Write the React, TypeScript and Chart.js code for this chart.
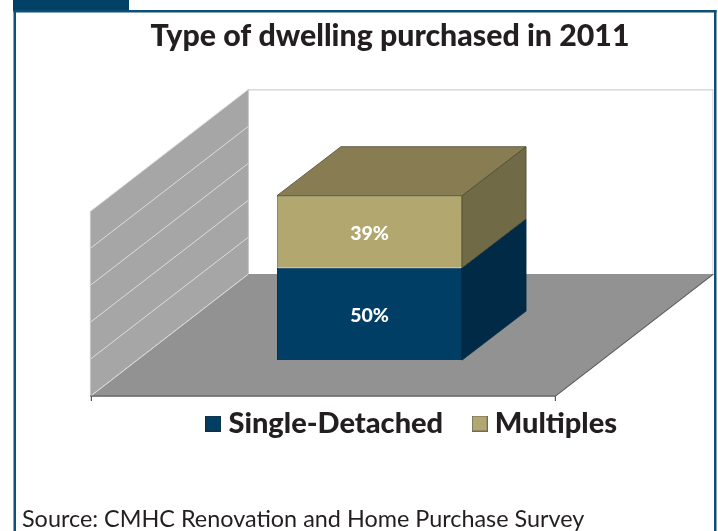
import React, { useEffect, useRef } from "react";
import { Chart, registerables } from "chart.js";

Chart.register(...registerables);

const categories = ["2011"];
const seriesNames = ["Single-Detached", "Multiples"];
const singleDetached = [50];
const multiples = [39];
const axisMax = 100;
const axisStep = 20;

const titleText = "Type of dwelling purchased in 2011";
const sourceText = "Source: CMHC Renovation and Home Purchase Survey";

const ink = "#231f20";
const frameBlue = "#0d4f78";
const tabBlue = "#004165";
const navy = "#003e66";
const navySide = "#002a45";
const khaki = "#b2a76e";
const khakiSide = "#706a47";
const khakiTop = "#877c52";
const khakiEdge = "#4d4833";
const wallGrey = "#a6a6a6";
const floorGrey = "#929292";
const gridGrey = "#dcdcdc";

// Oblique projection of the plot: the bars stand in a plane between the
// front edge of the floor and the back wall.
const floorDepth = { dx: 158, dy: -122 };
const barPlane = { dx: 46.6, dy: -36 };
const barDepth = { dx: 64, dy: -49 };

const poly = (ctx: CanvasRenderingContext2D, pts: number[][], fill: string | null, stroke?: string, lw = 1) => {
  ctx.beginPath();
  pts.forEach(([x, y], i) => (i ? ctx.lineTo(x, y) : ctx.moveTo(x, y)));
  ctx.closePath();
  if (fill) {
    ctx.fillStyle = fill;
    ctx.fill();
  }
  if (stroke) {
    ctx.strokeStyle = stroke;
    ctx.lineWidth = lw;
    ctx.stroke();
  }
};

const line = (ctx: CanvasRenderingContext2D, x0: number, y0: number, x1: number, y1: number, color: string, lw = 1) => {
  ctx.beginPath();
  ctx.moveTo(x0, y0);
  ctx.lineTo(x1, y1);
  ctx.strokeStyle = color;
  ctx.lineWidth = lw;
  ctx.stroke();
};

const swatch = (fill: string, edge: string) => {
  const c = document.createElement("canvas");
  c.width = 16;
  c.height = 16;
  const g = c.getContext("2d")!;
  g.fillStyle = edge;
  g.fillRect(0, 0, 16, 16);
  g.fillStyle = fill;
  g.fillRect(1, 1, 14, 14);
  return c;
};

const placeBoxes = {
  id: "placeBoxes",
  afterLayout(chart: any) {
    chart.boxes.forEach((box: any) => {
      if (box === chart.titleBlock) {
        box.left = 62;
        box.right = 718;
      } else if (box === chart.legend) {
        box.left = 112;
        box.right = 718;
        box.top = 373;
        box.bottom = 470;
      } else if (box.options && box.options.text === sourceText) {
        box.left = 22;
        box.right = 718;
      }
    });
  },
};

const frame = {
  id: "frame",
  beforeDraw(chart: any) {
    const { ctx, width, height } = chart;
    ctx.save();
    ctx.fillStyle = "#ffffff";
    ctx.fillRect(0, 0, width, height);
    ctx.fillStyle = tabBlue;
    ctx.fillRect(13, 0, 116, 11);
    ctx.fillStyle = frameBlue;
    ctx.fillRect(13.5, 10, 2.5, height - 10);
    ctx.fillRect(714, 10, 2.5, height - 10);
    ctx.fillRect(13.5, 10, 703, 2.5);
    ctx.restore();
  },
};

const room = {
  id: "room",
  beforeDatasetsDraw(chart: any) {
    const { ctx, chartArea, scales } = chart;
    const y = scales.y;
    const fl = chartArea.left - barPlane.dx;
    const fr = chartArea.right - barPlane.dx;
    const fb = y.getPixelForValue(0) - barPlane.dy;
    const ft = y.getPixelForValue(axisMax) - barPlane.dy;
    const { dx, dy } = floorDepth;
    ctx.save();

    // back wall outline
    line(ctx, fl + dx, ft + dy + 0.5, fr + dx, ft + dy + 0.5, "#c4c4c4");
    line(ctx, fr + dx - 0.5, ft + dy, fr + dx - 0.5, fb + dy, "#d4d4d4");

    // side wall and its gridlines
    poly(ctx, [[fl, ft], [fl + dx, ft + dy], [fl + dx, fb + dy], [fl, fb]], wallGrey);
    y.ticks.forEach((t: any) => {
      const py = y.getPixelForValue(t.value) - barPlane.dy;
      line(ctx, fl, py, fl + dx, py + dy, gridGrey);
    });
    line(ctx, fl, ft, fl, fb, "#c8c8c8");
    line(ctx, fl + dx, ft + dy, fl + dx, fb + dy, "#c8c8c8");

    // floor
    poly(ctx, [[fl, fb], [fl + dx, fb + dy], [fr + dx, fb + dy], [fr, fb]], floorGrey);
    line(ctx, fl + 1, fb - 0.5, fl + dx, fb + dy, gridGrey);
    line(ctx, fl, fb, fr, fb, "#5a5a5a", 1.2);
    line(ctx, fr, fb, fr + dx, fb + dy, "#5a5a5a", 1.2);
    line(ctx, fl + 1, fb, fl + 1, fb + 5, "#5a5a5a", 1.2);
    line(ctx, fr, fb, fr, fb + 5, "#5a5a5a", 1.2);
    ctx.restore();
  },
};

const barFaces = {
  id: "barFaces",
  afterDatasetsDraw(chart: any) {
    const { ctx } = chart;
    const { dx, dy } = barDepth;
    ctx.save();
    const sides = [navySide, khakiSide];
    const edges = [navySide, khakiEdge];
    chart.data.datasets.forEach((ds: any, di: number) => {
      chart.getDatasetMeta(di).data.forEach((bar: any, i: number) => {
        const p = bar.getProps(["x", "y", "base", "width"], true);
        const l = p.x - p.width / 2;
        const r = p.x + p.width / 2;
        poly(ctx, [[r, p.y], [r + dx, p.y + dy], [r + dx, p.base + dy], [r, p.base]], sides[di], edges[di], 0.8);
        if (di === chart.data.datasets.length - 1) {
          poly(ctx, [[l, p.y], [l + dx, p.y + dy], [r + dx, p.y + dy], [r, p.y]], khakiTop, khakiEdge, 0.8);
        }
        ctx.fillStyle = "#ffffff";
        ctx.font = "900 19.5px Lato";
        ctx.textAlign = "center";
        ctx.textBaseline = "middle";
        ctx.fillText(`${ds.data[i]}%`, p.x, (p.y + p.base) / 2 + 2);
      });
    });
    ctx.restore();
  },
};

export default function App() {
  const ref = useRef<HTMLCanvasElement>(null);

  useEffect(() => {
    const chart = new Chart(ref.current!, {
      type: "bar",
      data: {
        labels: categories,
        datasets: [
          {
            label: seriesNames[0],
            data: singleDetached,
            backgroundColor: navy,
            borderColor: "#00304f",
            borderWidth: 1,
          },
          {
            label: seriesNames[1],
            data: multiples,
            backgroundColor: khaki,
            borderColor: "#8f8658",
            borderWidth: 1,
          },
        ],
      },
      options: {
        responsive: false,
        animation: false,
        layout: { padding: { left: 0, right: 116, top: 0, bottom: 0 } },
        datasets: { bar: { barPercentage: 0.398, categoryPercentage: 1 } },
        scales: {
          x: { stacked: true, display: false },
          y: {
            stacked: true,
            min: 0,
            max: axisMax,
            ticks: { stepSize: axisStep, display: false },
            grid: { display: false },
            border: { display: false },
            // the axis draws nothing; its width reserves the room for the side wall
            afterFit(scale: any) {
              scale.width = 137;
            },
          },
        },
        plugins: {
          tooltip: { enabled: false },
          title: {
            display: true,
            text: titleText,
            color: ink,
            font: { family: "Lato", size: 30.3, weight: "900" },
            padding: { top: 18, bottom: 121 },
          },
          subtitle: {
            display: true,
            position: "bottom",
            align: "start",
            text: sourceText,
            color: ink,
            font: { family: "Lato", size: 23.4, weight: "normal" },
            padding: { top: 69.8, bottom: -2 },
          },
          legend: {
            position: "bottom",
            labels: {
              color: ink,
              font: { family: "Lato", size: 29, weight: "900" },
              usePointStyle: true,
              boxWidth: 1,
              padding: 36,
              generateLabels(c: any) {
                const items = Chart.defaults.plugins.legend.labels.generateLabels(c);
                return items.map((item: any, i: number) => ({
                  ...item,
                  pointStyle: swatch(i === 0 ? navy : khaki, i === 0 ? "#1d2b38" : "#6d6a58"),
                }));
              },
            },
          },
        },
      } as any,
      plugins: [frame, placeBoxes, room, barFaces],
    });
    return () => chart.destroy();
  }, []);

  return (
    <div style={{ position: "absolute", left: 0, top: 0, width: 718, height: 531 }}>
      <canvas ref={ref} width={718} height={531} style={{ display: "block" }} />
    </div>
  );
}
